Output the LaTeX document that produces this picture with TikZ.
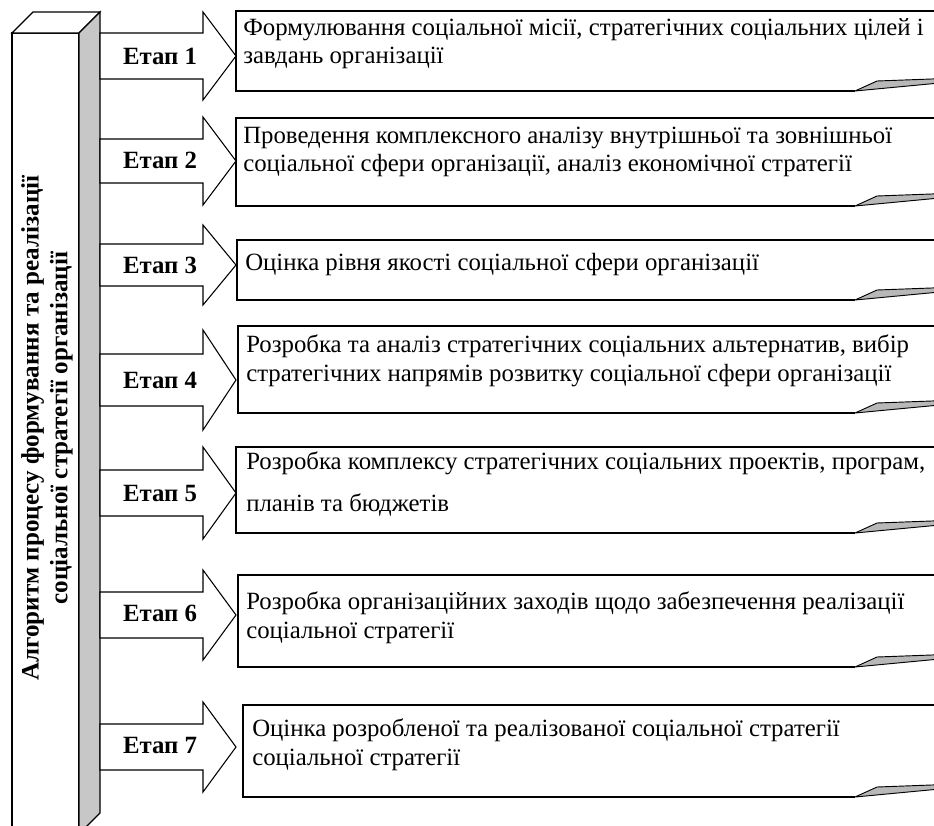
\documentclass[tikz,border=0pt]{standalone}
\usepackage{fontspec}
\setmainfont{Liberation Serif}
\begin{document}
\begin{tikzpicture}[x=0.75pt,y=-0.75pt,
  barface/.style={draw=black,line width=0.9pt,fill=white},
  barside/.style={draw=black,line width=0.9pt,fill=black!22},
  stagebox/.style={draw=black,line width=1.1pt,fill=white},
  foldpart/.style={draw=black,line width=0.7pt,fill=black!28,line join=round},
  stagearrow/.style={draw=black,line width=0.8pt,fill=white,line join=miter},
  stagelabel/.style={font=\bfseries\fontsize{18.6}{22}\selectfont,inner sep=0pt,anchor=center},
  stagetext/.style={font=\fontsize{18.6}{22}\selectfont,inner sep=0pt,anchor=base west},
  bartext/.style={font=\bfseries\fontsize{18.8}{21.5}\selectfont,align=center,rotate=90,inner sep=0pt}
]
\useasboundingbox (0,0) rectangle (934,825);
\begin{scope}
\clip (0,0) rectangle (934,825);
% left bar
\filldraw[barface] (12,33) rectangle (79,845);
\filldraw[barface] (12,33) -- (33,12) -- (100,12) -- (79,33) -- cycle;
\filldraw[barside] (79,33) -- (100,12) -- (100,813) -- (79,834) -- cycle;
\node[bartext] (bartitle) at (47,428) {Алгоритм процесу формування та реалізації\\соціальної стратегії організації};

% boxes: left, top, bottom
\foreach \n/\l/\t/\b in {1/236/11/91, 2/236/118/206, 3/237/240/300, 4/238/326/413, 5/236/447/533, 6/238/575/667, 7/243/705/797}{
  \fill[white] (\l,\t) rectangle (950,\b);
  \draw[stagebox] (950,\t) -- (\l,\t) -- (\l,\b) -- (855,\b);
  \filldraw[foldpart] (855,\b) -- (877,\b-10) -- (945,\b-12.5) -- (945,\b-8.5) -- cycle;
  \coordinate (box\n) at (\l,{(\t+\b)/2});
}

% arrows: center, head half-height, shaft half-height
\foreach \n/\c/\h/\s in {1/56/44/23, 2/161/44/22, 3/265/40/21, 4/380/50/26, 5/493/46/23, 6/615/45/23, 7/747/45/23}{
  \filldraw[stagearrow] (100,\c-\s) coordinate (arrs\n) -- (203,\c-\s) -- (203,\c-\h) -- (236,\c) -- (203,\c+\h) -- (203,\c+\s) -- (100,\c+\s) -- cycle;
}

\node[stagelabel] (lab1) at (160,56) {Етап 1};
\node[stagelabel] (lab2) at (160,160) {Етап 2};
\node[stagelabel] (lab3) at (160,265) {Етап 3};
\node[stagelabel] (lab4) at (160,380) {Етап 4};
\node[stagelabel] (lab5) at (160,493) {Етап 5};
\node[stagelabel] (lab6) at (160,613) {Етап 6};
\node[stagelabel] (lab7) at (160,745) {Етап 7};

\node[stagetext] (t1a) at (243,35) {Формулювання соціальної місії, стратегічних соціальних цілей і};
\node[stagetext] (t1b) at (243,63) {завдань організації};
\node[stagetext] (t2a) at (243,143) {Проведення комплексного аналізу внутрішньої та зовнішньої};
\node[stagetext] (t2b) at (243,171) {соціальної сфери організації, аналіз економічної стратегії};
\node[stagetext] (t3a) at (245,270) {Оцінка рівня якості соціальної сфери організації};
\node[stagetext] (t4a) at (246,352) {Розробка та аналіз стратегічних соціальних альтернатив, вибір};
\node[stagetext] (t4b) at (246,381) {стратегічних напрямів розвитку соціальної сфери організації};
\node[stagetext] (t5a) at (246,469) {Розробка комплексу стратегічних соціальних проектів, програм,};
\node[stagetext] (t5b) at (246,511) {планів та бюджетів};
\node[stagetext] (t6a) at (246,609) {Розробка організаційних заходів щодо забезпечення реалізації};
\node[stagetext] (t6b) at (246,638) {соціальної стратегії};
\node[stagetext] (t7a) at (252,736) {Оцінка розробленої та реалізованої соціальної стратегії};
\node[stagetext] (t7b) at (252,765) {соціальної стратегії};
\end{scope}
\end{tikzpicture}
\end{document}
